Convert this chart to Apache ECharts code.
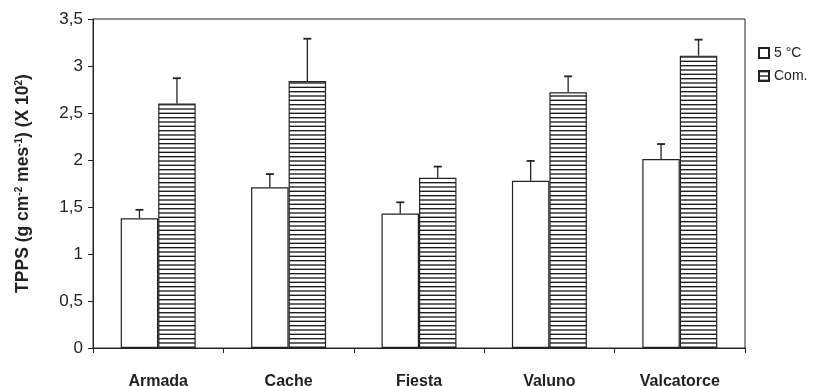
<!DOCTYPE html>
<html>
<head>
<meta charset="utf-8">
<script src="https://cdn.jsdelivr.net/npm/echarts@6/dist/echarts.min.js"></script>
<style>
  html, body { margin: 0; padding: 0; background: #fff; }
  #chart { width: 813px; height: 386px; }
</style>
</head>
<body>
<div id="chart"></div>
<script>
// Cultivars and monthly TPPS values (x 10^2) for each treatment
const categories = ['Armada', 'Cache', 'Fiesta', 'Valuno', 'Valcatorce'];
const seriesNames = ['5 °C', 'Com.'];
const cold = [1.38, 1.71, 1.43, 1.78, 2.01];
const coldErr = [0.09, 0.14, 0.12, 0.21, 0.16];
const com = [2.60, 2.84, 1.81, 2.72, 3.11];
const comErr = [0.27, 0.45, 0.12, 0.17, 0.17];
const yTicks = [0, 0.5, 1, 1.5, 2, 2.5, 3, 3.5];

const INK = '#222';
const FONT = 'Liberation Sans, Arial, sans-serif';
const CATEGORY_GAP = 0.425;

// Horizontal-line hatch used for the "Com." bars
function hatchPattern() {
  const c = document.createElement('canvas');
  c.width = 8; c.height = 13;
  const ctx = c.getContext('2d');
  ctx.fillStyle = '#fff';
  ctx.fillRect(0, 0, 8, 13);
  ctx.strokeStyle = '#111';
  ctx.lineWidth = 1.3;
  [0.7, 5.0, 9.3].forEach(y => {
    ctx.beginPath(); ctx.moveTo(0, y); ctx.lineTo(8, y); ctx.stroke();
  });
  return { image: c, repeat: 'repeat' };
}

// Upper-only error bar with a cap, placed over the bar of the given slot
function errorBar(values, errors, slot) {
  return {
    type: 'custom',
    z: 5,
    silent: true,
    data: values.map((v, i) => [i, v, v + errors[i]]),
    renderItem: function (params, api) {
      const band = api.size([1, 0])[0];
      const barW = band * (1 - CATEGORY_GAP) / 2;
      const off = (slot === 0 ? -0.5 : 0.5) * barW;
      const base = api.coord([api.value(0), api.value(1)]);
      const top = api.coord([api.value(0), api.value(2)]);
      const x = base[0] + off;
      const cap = 4;
      return {
        type: 'group',
        children: [
          { type: 'line', shape: { x1: x, y1: base[1], x2: x, y2: top[1] },
            style: { stroke: INK, lineWidth: 1.3 } },
          { type: 'line', shape: { x1: x - cap, y1: top[1], x2: x + cap, y2: top[1] },
            style: { stroke: INK, lineWidth: 1.8 } }
        ]
      };
    }
  };
}

const chart = echarts.init(document.getElementById('chart'), null, { renderer: 'canvas' });

chart.setOption({
  animation: false,
  backgroundColor: '#fff',
  grid: {
    left: 93, right: 68, top: 19, bottom: 38,
    outerBoundsMode: 'none',
    containLabel: false,
    show: true, borderColor: INK, borderWidth: 1, backgroundColor: 'transparent'
  },
  legend: {
    orient: 'vertical',
    left: 753, top: 41,
    icon: 'rect',
    itemWidth: 10, itemHeight: 10, itemGap: 9,
    data: seriesNames,
    textStyle: { fontFamily: FONT, fontSize: 14, color: INK, padding: [0, 0, 0, 0] }
  },
  xAxis: {
    type: 'category',
    data: categories,
    axisLine: { lineStyle: { color: INK, width: 1 } },
    axisTick: { show: true, length: 5, inside: false, lineStyle: { color: INK } },
    axisLabel: {
      margin: 26,
      fontFamily: FONT,
      fontWeight: 'bold', fontSize: 16, color: INK
    },
    splitLine: { show: false }
  },
  yAxis: {
    type: 'value',
    min: yTicks[0], max: yTicks[yTicks.length - 1], interval: 0.5,
    axisLine: { show: true, lineStyle: { color: INK, width: 1 } },
    axisTick: { show: true, length: 5, lineStyle: { color: INK } },
    splitLine: { show: false },
    axisLabel: {
      margin: 10,
      fontFamily: FONT,
      fontSize: 17, color: INK,
      formatter: v => String(v).replace('.', ',')
    },
    name: '{b|TPPS (g cm}{s|-2}{b| mes}{s|-1}{b|) (X 10}{s|2}{b|)}',
    nameLocation: 'middle',
    nameGap: 60,
    nameRotate: 90,
    nameTextStyle: {
      rich: {
        b: { fontFamily: FONT, fontWeight: 'bold', fontSize: 17.5, color: INK },
        s: { fontFamily: FONT, fontWeight: 'bold', fontSize: 10, color: INK, verticalAlign: 'top', padding: [0, 0, 9, 0] }
      }
    }
  },
  series: [
    {
      name: seriesNames[0], type: 'bar', data: cold,
      barGap: '0%', barCategoryGap: (CATEGORY_GAP * 100) + '%',
      itemStyle: { color: '#fff', borderColor: INK, borderWidth: 1.2 }
    },
    {
      name: seriesNames[1], type: 'bar', data: com,
      barGap: '0%', barCategoryGap: (CATEGORY_GAP * 100) + '%',
      itemStyle: { color: hatchPattern(), borderColor: INK, borderWidth: 1.2 }
    },
    errorBar(cold, coldErr, 0),
    errorBar(com, comErr, 1)
  ]
});
</script>
</body>
</html>
